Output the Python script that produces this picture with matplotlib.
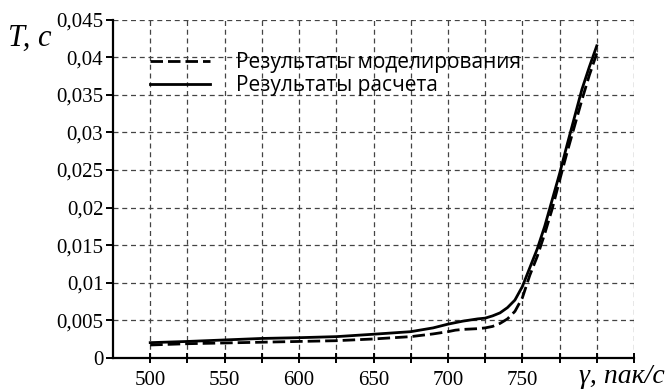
import matplotlib
matplotlib.use("Agg")
import matplotlib.pyplot as plt
from matplotlib.ticker import FixedLocator, FuncFormatter

# traffic intensity, packets/s
x_sim = [500, 525, 550, 575, 600, 625, 650, 675, 690, 700, 705, 710, 720, 725, 730, 735,
         740, 745, 750, 755, 760, 765, 770, 775, 780, 785, 790, 795, 800]
t_sim = [0.00173, 0.0019, 0.0020, 0.0021, 0.0022, 0.0023, 0.00253, 0.00284, 0.0032, 0.0035,
         0.0037, 0.0038, 0.0039, 0.0040, 0.0042, 0.0046, 0.0052, 0.0062, 0.0080, 0.0110,
         0.0135, 0.0165, 0.0198, 0.0236, 0.0273, 0.0308, 0.0343, 0.0376, 0.0405]

x_calc = [500, 525, 550, 575, 600, 625, 650, 675, 690, 700, 710, 720, 725, 730, 735, 740,
          745, 750, 755, 760, 765, 770, 775, 780, 785, 790, 795, 800]
t_calc = [0.00204, 0.0022, 0.0024, 0.0026, 0.0027, 0.00284, 0.00316, 0.0035, 0.0040, 0.0045,
          0.0049, 0.0052, 0.0053, 0.0056, 0.0060, 0.0067, 0.0077, 0.0095, 0.0120, 0.0145,
          0.0175, 0.0210, 0.0245, 0.0283, 0.0320, 0.0357, 0.0387, 0.0415]

labels = ["Результаты моделирования", "Результаты расчета"]
x_ticks = list(range(500, 826, 25))
y_ticks = [i * 0.005 for i in range(10)]

serif = "Liberation Serif"

fig = plt.figure(figsize=(6.67, 3.9), dpi=100)
ax = fig.add_axes([113 / 667, 32 / 390, 521 / 667, 338.5 / 390])

ax.plot(x_sim, t_sim, color="black", lw=2.0, dashes=(4.5, 1.8), label=labels[0])
ax.plot(x_calc, t_calc, color="black", lw=2.0, label=labels[1])

ax.set_xlim(475, 825)
ax.set_ylim(0, 0.045)
ax.xaxis.set_major_locator(FixedLocator(x_ticks))
ax.yaxis.set_major_locator(FixedLocator(y_ticks))
ax.xaxis.set_major_formatter(FuncFormatter(
    lambda v, p: str(int(v)) if (int(v) % 50 == 0 and v < 800) else ""))
ax.yaxis.set_major_formatter(FuncFormatter(
    lambda v, p: "0" if v < 1e-9 else ("%.3f" % v).rstrip("0").replace(".", ",")))

ax.grid(True, color="#444444", lw=0.9, linestyle=(0, (4, 3)))
for s in ["top", "right"]:
    ax.spines[s].set_visible(False)
for s in ["left", "bottom"]:
    ax.spines[s].set_linewidth(1.6)

ax.tick_params(axis="x", direction="inout", length=7, width=1.4, pad=6)
ax.tick_params(axis="y", direction="out", length=5, width=1.4, pad=2)
for lab in ax.get_xticklabels() + ax.get_yticklabels():
    lab.set_fontfamily(serif)
    lab.set_fontsize(15)

fig.text(8 / 667, 1 - 46 / 390, "T, c", fontfamily=serif, fontstyle="italic", fontsize=22)
fig.text(665 / 667, 7 / 390, "γ, пак/с", fontfamily=serif, fontstyle="italic",
         fontsize=20, ha="right")

leg = ax.legend(loc="upper left", bbox_to_anchor=(150 / 667, 1 - 52 / 390),
                bbox_transform=fig.transFigure, frameon=False,
                prop={"family": "Open Sans", "size": 15},
                handlelength=2.9, handletextpad=1.25, labelspacing=0.12,
                borderaxespad=0, borderpad=0)

fig.savefig("out.png", dpi=100)
